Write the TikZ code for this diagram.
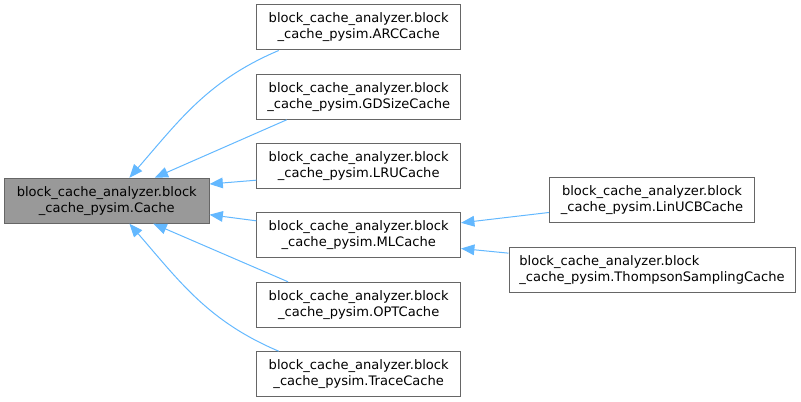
\documentclass[tikz,border=0pt]{standalone}
\usepackage{fontspec}
\setmainfont{DejaVu Sans}
\usetikzlibrary{arrows.meta}
\definecolor{edgeblue}{HTML}{63B8FF}
\definecolor{boxline}{HTML}{666666}
\definecolor{basefill}{HTML}{999999}
\tikzset{
  cls/.style={draw=boxline,line width=0.75pt,fill=white,align=center,inner sep=0pt,
    minimum height=33.75pt,minimum width=152.8pt,font=\fontsize{9.8}{12}\selectfont},
  basecls/.style={cls,fill=basefill,minimum width=153.4pt},
  inherit/.style={draw=edgeblue,line width=0.75pt,-{Triangle[length=10pt,width=8pt]}}
}

\begin{document}
\begin{tikzpicture}[x=0.75pt,y=-0.75pt]
    \useasboundingbox (0,0) rectangle (801,402);
    % base class
    \node[basecls] (cache) at (106.75,200.7) {block\_cache\_analyzer.block\\\_cache\_pysim.Cache};
    % direct subclasses
    \node[cls] (arc) at (358.7,27.5) {block\_cache\_analyzer.block\\\_cache\_pysim.ARCCache};
    \node[cls] (gds) at (358.7,96.8) {block\_cache\_analyzer.block\\\_cache\_pysim.GDSizeCache};
    \node[cls] (lru) at (358.7,166.2) {block\_cache\_analyzer.block\\\_cache\_pysim.LRUCache};
    \node[cls] (ml) at (358.7,235.5) {block\_cache\_analyzer.block\\\_cache\_pysim.MLCache};
    \node[cls] (opt) at (358.7,304.8) {block\_cache\_analyzer.block\\\_cache\_pysim.OPTCache};
    \node[cls] (trace) at (358.7,374.2) {block\_cache\_analyzer.block\\\_cache\_pysim.TraceCache};
    % subclasses of MLCache
    \node[cls,minimum width=154pt] (linucb) at (652,200.5) {block\_cache\_analyzer.block\\\_cache\_pysim.LinUCBCache};
    \node[cls,align=left,minimum width=214.5pt] (thompson) at (652,270.5) {block\_cache\_analyzer.block\\\_cache\_pysim.ThompsonSamplingCache};
    \draw[inherit] ([xshift=-60pt]arc.south) to[out=203,in=49] ([xshift=17pt]cache.north);
    \draw[inherit] ([xshift=-54pt]gds.south) -- ([xshift=36pt]cache.north);
    \draw[inherit] ([yshift=-10.5pt]lru.west) -- ([yshift=12.5pt]cache.east);
    \draw[inherit] ([yshift=11pt]ml.west) -- ([yshift=-10.5pt]cache.east);
    \draw[inherit] ([xshift=-53pt]opt.north) -- ([xshift=35pt]cache.south);
    \draw[inherit] ([xshift=-60pt]trace.north) to[out=157,in=-49] ([xshift=17pt]cache.south);
    \draw[inherit] ([yshift=-9pt]linucb.west) -- ([yshift=9.5pt]ml.east);
    \draw[inherit] ([yshift=13pt]thompson.west) -- ([yshift=-9.75pt]ml.east);
  \end{tikzpicture}
\end{document}
